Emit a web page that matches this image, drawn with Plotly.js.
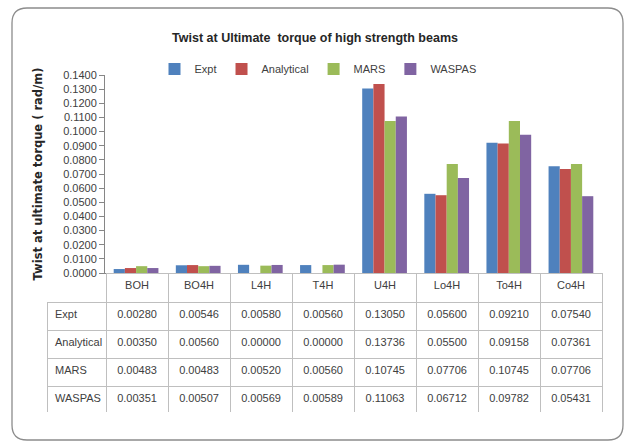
<!DOCTYPE html>
<html>
<head>
<meta charset="utf-8">
<script src="https://cdn.plot.ly/plotly-3.0.1.min.js"></script>
<style>html,body{margin:0;padding:0;background:#fff;}#chart{width:629px;height:443px;}</style>
</head>
<body>
<div id="chart"></div>
<script>
const categories = ['BOH', 'BO4H', 'L4H', 'T4H', 'U4H', 'Lo4H', 'To4H', 'Co4H'];
const seriesNames = ['Expt', 'Analytical', 'MARS', 'WASPAS'];
const expt = [0.00280, 0.00546, 0.00580, 0.00560, 0.13050, 0.05600, 0.09210, 0.07540];
const analytical = [0.00350, 0.00560, 0.00000, 0.00000, 0.13736, 0.05500, 0.09158, 0.07361];
const mars = [0.00483, 0.00483, 0.00520, 0.00560, 0.10745, 0.07706, 0.10745, 0.07706];
const waspas = [0.00351, 0.00507, 0.00569, 0.00589, 0.11063, 0.06712, 0.09782, 0.05431];
const colors = ['#4F81BD', '#C0504D', '#9BBB59', '#8064A2'];

const W = 629, H = 443;
const px = v => v / W;
const py = v => (H - v) / H;
const font = 'Liberation Sans, Arial, sans-serif';
const txt = '#404040';

const series = [expt, analytical, mars, waspas];
const traces = series.map((vals, i) => ({
  type: 'bar', name: seriesNames[i], x: categories, y: vals,
  marker: {color: colors[i]}, xaxis: 'x', yaxis: 'y'
}));

// table columns built from the same arrays
const headerVals = [''].concat(categories);
const cellCols = [seriesNames].concat(categories.map((c, j) => series.map(s => s[j].toFixed(5))));
const clear = 'rgba(0,0,0,0)';
const lineCols = [clear].concat(categories.map(() => '#bfbfbf'));
const fillCols = [clear].concat(categories.map(() => '#ffffff'));
traces.push({
  type: 'table',
  domain: {x: [px(47), px(602)], y: [py(412), py(273)]},
  columnwidth: [59].concat(categories.map(() => 62)),
  header: {
    values: headerVals, height: 29, align: 'center',
    line: {color: lineCols, width: 1}, fill: {color: fillCols},
    font: {family: font, size: 11, color: txt}
  },
  cells: {
    values: cellCols, height: 28,
    align: ['left'].concat(categories.map(() => 'center')),
    line: {color: '#bfbfbf', width: 1}, fill: {color: '#ffffff'},
    font: {family: font, size: 11, color: txt}
  }
});

const r = 15;
const x0 = px(12), x1 = px(623), y0 = py(440), y1 = py(8);
const rx = r / W, ry = r / H;
const framePath = `M ${x0 + rx} ${y1} L ${x1 - rx} ${y1} Q ${x1} ${y1} ${x1} ${y1 - ry} L ${x1} ${y0 + ry} Q ${x1} ${y0} ${x1 - rx} ${y0} L ${x0 + rx} ${y0} Q ${x0} ${y0} ${x0} ${y0 + ry} L ${x0} ${y1 - ry} Q ${x0} ${y1} ${x0 + rx} ${y1} Z`;

const layout = {
  width: W, height: H,
  margin: {l: 0, r: 0, t: 0, b: 0},
  paper_bgcolor: '#ffffff', plot_bgcolor: '#ffffff',
  font: {family: font, size: 11, color: txt},
  title: {
    text: 'Twist at Ultimate  torque of high strength beams',
    font: {family: font, size: 12.5, color: '#262626', weight: 'bold'},
    x: px(315), xanchor: 'center', y: py(38), yanchor: 'middle'
  },
  barmode: 'group', bargap: 0.28, bargroupgap: 0,
  showlegend: true,
  legend: {
    orientation: 'h', x: px(318), xanchor: 'center', y: py(69), yanchor: 'middle',
    font: {family: font, size: 11, color: txt}, itemwidth: 30, traceorder: 'normal'
  },
  xaxis: {
    domain: [px(105), px(602)], type: 'category', showticklabels: false,
    showline: true, linecolor: '#868686', linewidth: 1, ticks: '', showgrid: false, zeroline: false,
    fixedrange: true
  },
  yaxis: {
    domain: [py(273), py(75)], range: [0, 0.14], dtick: 0.01, tickformat: '.4f',
    showline: true, linecolor: '#868686', linewidth: 1, ticks: 'outside', ticklen: 5, tickcolor: '#868686',
    showgrid: false, zeroline: false,
    tickfont: {family: font, size: 11, color: txt},
    title: {text: 'Twist at ultimate torque ( rad/m)', standoff: 18,
      font: {family: 'DejaVu Sans, Verdana, sans-serif', size: 11.5, color: '#262626', weight: 'bold'}},
    automargin: false
  },
  shapes: [{
    type: 'path', xref: 'paper', yref: 'paper', path: framePath,
    line: {color: '#8c8c8c', width: 1.3}, fillcolor: 'rgba(0,0,0,0)', layer: 'below'
  }]
};

Plotly.newPlot('chart', traces, layout, {displayModeBar: false, staticPlot: true});
</script>
</body>
</html>
